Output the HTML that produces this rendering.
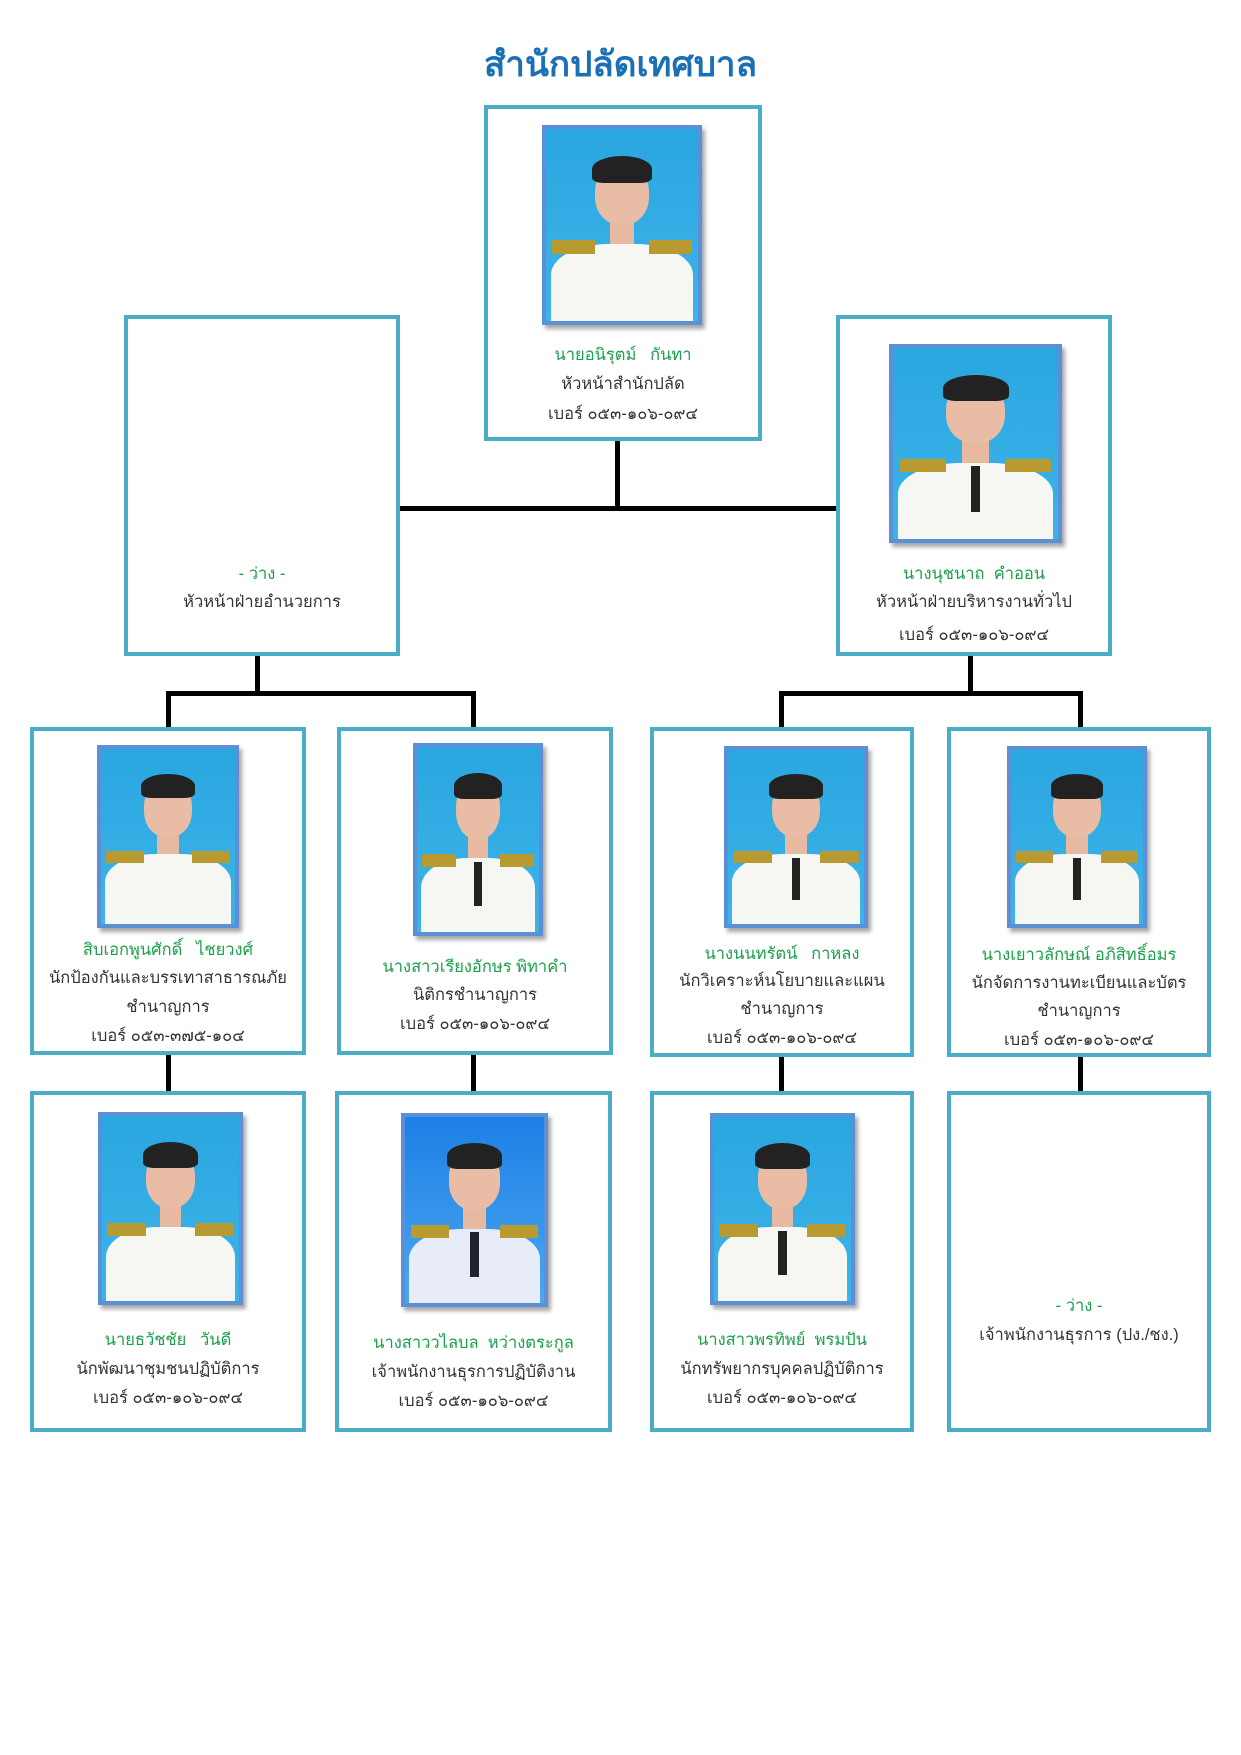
<!DOCTYPE html>
<html><head><meta charset="utf-8">
<style>
body{margin:0;width:1241px;height:1755px;background:#fff;position:relative;overflow:hidden;font-family:"Liberation Sans","Noto Sans CJK SC",sans-serif;}
.box{position:absolute;border:4px solid #4bacc6;box-sizing:border-box;background:#fff;}
.ln{position:absolute;background:#000;}
.t{position:absolute;text-align:center;font-size:16.5px;color:#333;white-space:nowrap;line-height:22px;}
.g{color:#1aa04a;}
.ph{position:absolute;box-sizing:border-box;border:4px solid #5b8fd6;background:linear-gradient(180deg,#2aa6e0,#3cb4e8);overflow:hidden;box-shadow:3px 4px 4px rgba(0,0,0,.35);}
.ph .body{position:absolute;left:3%;right:3%;bottom:0;height:40%;background:#f6f6f2;border-radius:40% 40% 0 0;}
.ph .ep{position:absolute;top:58%;width:28%;height:7%;background:#b89a30;}
.ph .neck{position:absolute;left:42%;width:16%;top:48%;height:12%;background:#e7b9a0;}
.ph .head{position:absolute;left:32%;width:36%;top:18%;height:32%;background:#e9bca5;border-radius:45%;}
.ph .hair{position:absolute;left:30%;width:40%;top:14%;height:14%;background:#222;border-radius:50% 50% 20% 20%;}
.ph .tie{position:absolute;left:47%;width:6%;top:62%;height:24%;background:#222;}
</style></head><body>
<div class="t" style="left:0;width:1241px;top:40px;font-size:35px;line-height:50px;font-weight:bold;color:#1a6fb5;">สำนักปลัดเทศบาล</div>

<div class="ln" style="left:615px;top:438px;width:5px;height:72px"></div>
<div class="ln" style="left:399px;top:506px;width:437px;height:5px"></div>
<div class="ln" style="left:255px;top:653px;width:5px;height:42px"></div>
<div class="ln" style="left:166px;top:691px;width:310px;height:5px"></div>
<div class="ln" style="left:166px;top:691px;width:5px;height:38px"></div>
<div class="ln" style="left:471px;top:691px;width:5px;height:38px"></div>
<div class="ln" style="left:968px;top:653px;width:5px;height:42px"></div>
<div class="ln" style="left:779px;top:691px;width:304px;height:5px"></div>
<div class="ln" style="left:779px;top:691px;width:5px;height:38px"></div>
<div class="ln" style="left:1078px;top:691px;width:5px;height:38px"></div>
<div class="ln" style="left:166px;top:1052px;width:5px;height:41px"></div>
<div class="ln" style="left:471px;top:1052px;width:5px;height:41px"></div>
<div class="ln" style="left:779px;top:1052px;width:5px;height:41px"></div>
<div class="ln" style="left:1078px;top:1052px;width:5px;height:41px"></div>

<div class="box" style="left:484px;top:105px;width:278px;height:336px"></div>
<div class="ph" style="left:542px;top:125px;width:160px;height:200px"><div class="body"></div><div class="ep" style="left:4%"></div><div class="ep" style="right:4%"></div><div class="neck"></div><div class="head"></div><div class="hair"></div></div>
<div class="t g" style="left:484px;width:278px;top:344px">นายอนิรุตม์&nbsp;&nbsp; กันทา</div>
<div class="t" style="left:484px;width:278px;top:373px">หัวหน้าสำนักปลัด</div>
<div class="t" style="left:484px;width:278px;top:403px">เบอร์ ๐๕๓-๑๐๖-๐๙๔</div>

<div class="box" style="left:124px;top:315px;width:276px;height:341px"></div>
<div class="t g" style="left:124px;width:276px;top:563px">- ว่าง -</div>
<div class="t" style="left:124px;width:276px;top:591px">หัวหน้าฝ่ายอำนวยการ</div>

<div class="box" style="left:836px;top:315px;width:276px;height:341px"></div>
<div class="ph" style="left:889px;top:344px;width:173px;height:199px"><div class="body"></div><div class="ep" style="left:4%"></div><div class="ep" style="right:4%"></div><div class="neck"></div><div class="head"></div><div class="hair"></div><div class="tie"></div></div>
<div class="t g" style="left:836px;width:276px;top:563px">นางนุชนาถ&nbsp; คำออน</div>
<div class="t" style="left:836px;width:276px;top:591px">หัวหน้าฝ่ายบริหารงานทั่วไป</div>
<div class="t" style="left:836px;width:276px;top:624px">เบอร์ ๐๕๓-๑๐๖-๐๙๔</div>

<div class="box" style="left:30px;top:727px;width:276px;height:328px"></div>
<div class="ph" style="left:97px;top:745px;width:142px;height:183px"><div class="body"></div><div class="ep" style="left:4%"></div><div class="ep" style="right:4%"></div><div class="neck"></div><div class="head"></div><div class="hair"></div></div>
<div class="t g" style="left:30px;width:276px;top:939px">สิบเอกพูนศักดิ์&nbsp;&nbsp; ไชยวงศ์</div>
<div class="t" style="left:30px;width:276px;top:967px">นักป้องกันและบรรเทาสาธารณภัย</div>
<div class="t" style="left:30px;width:276px;top:996px">ชำนาญการ</div>
<div class="t" style="left:30px;width:276px;top:1025px">เบอร์ ๐๕๓-๓๗๕-๑๐๔</div>

<div class="box" style="left:337px;top:727px;width:276px;height:328px"></div>
<div class="ph" style="left:413px;top:743px;width:130px;height:193px"><div class="body"></div><div class="ep" style="left:4%"></div><div class="ep" style="right:4%"></div><div class="neck"></div><div class="head"></div><div class="hair"></div><div class="tie"></div></div>
<div class="t g" style="left:337px;width:276px;top:956px">นางสาวเรียงอักษร พิทาคำ</div>
<div class="t" style="left:337px;width:276px;top:984px">นิติกรชำนาญการ</div>
<div class="t" style="left:337px;width:276px;top:1013px">เบอร์ ๐๕๓-๑๐๖-๐๙๔</div>

<div class="box" style="left:650px;top:727px;width:264px;height:330px"></div>
<div class="ph" style="left:724px;top:746px;width:144px;height:182px"><div class="body"></div><div class="ep" style="left:4%"></div><div class="ep" style="right:4%"></div><div class="neck"></div><div class="head"></div><div class="hair"></div><div class="tie"></div></div>
<div class="t g" style="left:650px;width:264px;top:943px">นางนนทรัตน์&nbsp;&nbsp; กาหลง</div>
<div class="t" style="left:650px;width:264px;top:970px">นักวิเคราะห์นโยบายและแผน</div>
<div class="t" style="left:650px;width:264px;top:998px">ชำนาญการ</div>
<div class="t" style="left:650px;width:264px;top:1027px">เบอร์ ๐๕๓-๑๐๖-๐๙๔</div>

<div class="box" style="left:947px;top:727px;width:264px;height:330px"></div>
<div class="ph" style="left:1007px;top:746px;width:140px;height:182px"><div class="body"></div><div class="ep" style="left:4%"></div><div class="ep" style="right:4%"></div><div class="neck"></div><div class="head"></div><div class="hair"></div><div class="tie"></div></div>
<div class="t g" style="left:947px;width:264px;top:944px">นางเยาวลักษณ์ อภิสิทธิ์อมร</div>
<div class="t" style="left:947px;width:264px;top:972px">นักจัดการงานทะเบียนและบัตร</div>
<div class="t" style="left:947px;width:264px;top:1000px">ชำนาญการ</div>
<div class="t" style="left:947px;width:264px;top:1029px">เบอร์ ๐๕๓-๑๐๖-๐๙๔</div>

<div class="box" style="left:30px;top:1091px;width:276px;height:341px"></div>
<div class="ph" style="left:98px;top:1112px;width:145px;height:193px"><div class="body"></div><div class="ep" style="left:4%"></div><div class="ep" style="right:4%"></div><div class="neck"></div><div class="head"></div><div class="hair"></div></div>
<div class="t g" style="left:30px;width:276px;top:1329px">นายธวัชชัย&nbsp;&nbsp; วันดี</div>
<div class="t" style="left:30px;width:276px;top:1358px">นักพัฒนาชุมชนปฏิบัติการ</div>
<div class="t" style="left:30px;width:276px;top:1387px">เบอร์ ๐๕๓-๑๐๖-๐๙๔</div>

<div class="box" style="left:335px;top:1091px;width:277px;height:341px"></div>
<div class="ph" style="left:401px;top:1113px;width:147px;height:194px;background:linear-gradient(180deg,#1e7fe6,#4aa8f0)"><div class="body" style="background:#e8ecf8"></div><div class="ep" style="left:4%"></div><div class="ep" style="right:4%"></div><div class="neck"></div><div class="head"></div><div class="hair"></div><div class="tie" style="background:#223"></div></div>
<div class="t g" style="left:335px;width:277px;top:1332px">นางสาววไลบล&nbsp; หว่างตระกูล</div>
<div class="t" style="left:335px;width:277px;top:1361px">เจ้าพนักงานธุรการปฏิบัติงาน</div>
<div class="t" style="left:335px;width:277px;top:1390px">เบอร์ ๐๕๓-๑๐๖-๐๙๔</div>

<div class="box" style="left:650px;top:1091px;width:264px;height:341px"></div>
<div class="ph" style="left:710px;top:1113px;width:145px;height:192px"><div class="body"></div><div class="ep" style="left:4%"></div><div class="ep" style="right:4%"></div><div class="neck"></div><div class="head"></div><div class="hair"></div><div class="tie"></div></div>
<div class="t g" style="left:650px;width:264px;top:1329px">นางสาวพรทิพย์&nbsp; พรมปัน</div>
<div class="t" style="left:650px;width:264px;top:1358px">นักทรัพยากรบุคคลปฏิบัติการ</div>
<div class="t" style="left:650px;width:264px;top:1387px">เบอร์ ๐๕๓-๑๐๖-๐๙๔</div>

<div class="box" style="left:947px;top:1091px;width:264px;height:341px"></div>
<div class="t g" style="left:947px;width:264px;top:1295px">- ว่าง -</div>
<div class="t" style="left:947px;width:264px;top:1324px">เจ้าพนักงานธุรการ (ปง./ชง.)</div>
</body></html>
